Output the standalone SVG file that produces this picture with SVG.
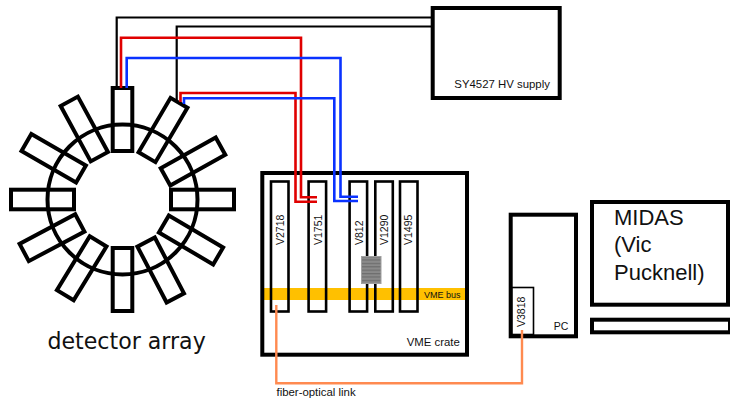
<svg xmlns="http://www.w3.org/2000/svg" width="730" height="398" viewBox="0 0 730 398">
<defs>
<pattern id="stripes" width="4" height="3.4" patternUnits="userSpaceOnUse" y="256">
<rect width="4" height="3.4" fill="#8a8a8a"/>
<rect width="4" height="1.2" fill="#6e6e6e"/>
</pattern>
</defs>
<style>
.box{fill:none;stroke:#000;stroke-width:4}
.det{fill:none;stroke:#000;stroke-width:4}
.mod{fill:none;stroke:#000;stroke-width:2.6}
.w{fill:none;stroke-width:2.2;stroke-linejoin:miter}
.blk{stroke:#000}
.red{stroke:#e00000;stroke-width:2.6}
.blu{stroke:#0a32ff;stroke-width:2.6}
.orn{stroke:#ff8a50;stroke-width:2.4}
text{font-family:"Liberation Sans",Arial,sans-serif;fill:#111}
.s{font-size:10.5px}
.l{font-size:11.4px}
.m{font-size:22px}
</style>
<rect width="730" height="398" fill="#fff"/>
<g id="detector-array">
<circle cx="122.5" cy="199.5" r="75" class="det"/>
<rect class="det" x="-9.8" y="-31.5" width="19.6" height="63" transform="translate(122.5,119.5)"/>
<rect class="det" x="-9.8" y="-31.5" width="19.6" height="63" transform="translate(163,130) rotate(30.5)"/>
<rect class="det" x="-9.8" y="-31.5" width="19.6" height="63" transform="translate(193,161.5) rotate(60.8)"/>
<rect class="det" x="-9.8" y="-31.5" width="19.6" height="63" transform="translate(202.5,199.5) rotate(90)"/>
<rect class="det" x="-9.8" y="-31.5" width="19.6" height="63" transform="translate(191,240) rotate(120.5)"/>
<rect class="det" x="-9.8" y="-31.5" width="19.6" height="63" transform="translate(160.7,270) rotate(152.4)"/>
<rect class="det" x="-9.8" y="-31.5" width="19.6" height="63" transform="translate(122.5,279.5) rotate(180)"/>
<rect class="det" x="-9.8" y="-31.5" width="19.6" height="63" transform="translate(81.7,268.3) rotate(211.4)"/>
<rect class="det" x="-9.8" y="-31.5" width="19.6" height="63" transform="translate(52,237.7) rotate(242)"/>
<rect class="det" x="-9.8" y="-31.5" width="19.6" height="63" transform="translate(42.5,199.5) rotate(270)"/>
<rect class="det" x="-9.8" y="-31.5" width="19.6" height="63" transform="translate(53.7,158.3) rotate(300)"/>
<rect class="det" x="-9.8" y="-31.5" width="19.6" height="63" transform="translate(84.3,129) rotate(331.5)"/>
<text x="47.5" y="349" style="font-family:'DejaVu Sans',sans-serif;font-size:22.1px">detector array</text>
</g>
<g id="hv-supply">
<rect class="box" x="432.7" y="8" width="127" height="90"/>
<text class="l" x="454.3" y="88">SY4527 HV supply</text>
</g>
<g id="vme-crate">
<rect x="264" y="288" width="201" height="12" fill="#ffc000"/>
<rect class="box" x="262.3" y="173" width="204.7" height="181.7"/>
<text class="l" x="406.7" y="346">VME crate</text>
<text x="424" y="298" style="font-size:9px">VME bus</text>
</g>
<g id="v2718"><rect class="mod" x="271" y="181.5" width="17.5" height="130"/><text class="s" transform="translate(284.3,245) rotate(-90)">V2718</text></g>
<g id="v1751"><rect class="mod" x="308.6" y="181.5" width="17.5" height="130"/><text class="s" transform="translate(321.7,245) rotate(-90)">V1751</text></g>
<g id="v812"><rect class="mod" x="349.6" y="181.5" width="17.5" height="130"/><text class="s" transform="translate(362.7,245) rotate(-90)">V812</text></g>
<g id="v1290"><rect class="mod" x="375.3" y="181.5" width="17.5" height="130"/><text class="s" transform="translate(387.7,245) rotate(-90)">V1290</text></g>
<g id="v1495"><rect class="mod" x="400" y="181.5" width="17.5" height="130"/><text class="s" transform="translate(412.3,245) rotate(-90)">V1495</text></g>
<g id="ribbon"><rect x="361.5" y="256.5" width="19.5" height="27" fill="url(#stripes)" stroke="#a0a0a0" stroke-width="1"/></g>
<g id="pc">
<rect class="box" x="510.7" y="214.7" width="65.3" height="121.6"/>
<rect x="511.5" y="287.5" width="22" height="47" fill="none" stroke="#000" stroke-width="1.6"/>
<text class="s" x="553.7" y="330">PC</text>
<text class="s" transform="translate(525,327) rotate(-90)">V3818</text>
</g>
<g id="midas">
<rect class="box" x="592" y="202" width="136" height="102.7"/>
<text class="m" x="614" y="225">MIDAS</text>
<text class="m" x="614" y="252">(Vic</text>
<text class="m" x="614" y="280">Pucknell)</text>
</g>
<g id="keyboard"><rect class="box" x="592" y="319.7" width="138" height="12.6"/></g>
<g id="connectors">
<path class="w blk" d="M116.7 88V17.5H432"/>
<path class="w blk" d="M176.7 102V26.5H432"/>
<path class="w red" d="M121 88V37.7H301V197.3H317"/>
<path class="w red" d="M180.5 102V93H295.5V201.7H317"/>
<path class="w blu" d="M126.7 88V58H340.5V196.7H358"/>
<path class="w blu" d="M184 104V98.3H334.3V201H358"/>
<path class="w orn" d="M276.3 305V383.3H522V330"/>
<text class="l" x="276.5" y="396">fiber-optical link</text>
</g>
</svg>
